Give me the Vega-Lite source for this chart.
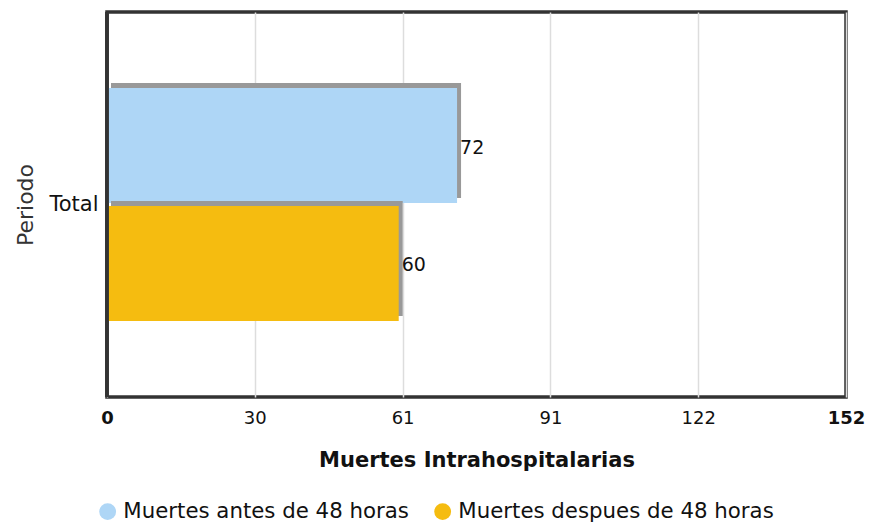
{
  "$schema": "https://vega.github.io/schema/vega-lite/v6.json",
  "width": 739,
  "height": 385,
  "autosize": {"type": "none"},
  "padding": {"left": 107, "top": 12, "right": 24, "bottom": 127},
  "data": {
    "values": [
      {"Periodo": "Total", "serie": "Muertes antes de 48 horas", "valor": 72},
      {"Periodo": "Total", "serie": "Muertes despues de 48 horas", "valor": 60}
    ]
  },
  "config": {
    "font": "DejaVu Sans",
    "view": {"stroke": "#333333", "strokeWidth": 3.5}
  },
  "encoding": {
    "x": {
      "field": "valor",
      "type": "quantitative",
      "title": "Muertes Intrahospitalarias",
      "scale": {"domain": [0, 152], "nice": false, "zero": true},
      "axis": {
        "values": [0, 30.4, 60.8, 91.2, 121.6, 152],
        "format": ".0f",
        "domain": false,
        "ticks": false,
        "grid": true,
        "gridColor": "#dddddd",
        "gridWidth": 1.5,
        "labelFontSize": 18,
        "labelColor": "#111111",
        "labelPadding": 12,
        "labelFontWeight": {
          "condition": {"test": "datum.value == 0 || datum.value == 152", "value": "bold"},
          "value": "normal"
        },
        "labelFlush": false,
        "titleFontSize": 21,
        "titleFontWeight": "bold",
        "titleColor": "#111111",
        "titlePadding": 22
      }
    }
  },
  "layer": [
    {
      "mark": {"type": "point", "opacity": 0},
      "encoding": {
        "y": {
          "field": "Periodo",
          "type": "nominal",
          "title": "Periodo",
          "axis": {
            "domain": false,
            "ticks": false,
            "labelFontSize": 21,
            "labelColor": "#111111",
            "labelPadding": 9,
            "titleFontSize": 22,
            "titleFontWeight": "normal",
            "titleColor": "#333333",
            "titlePadding": 11
          }
        }
      }
    },
    {
      "transform": [{"filter": "datum.serie == 'Muertes antes de 48 horas'"}],
      "mark": {"type": "bar", "color": "#999999", "xOffset": 4, "yOffset": -5},
      "encoding": {
        "y": {
          "field": "serie",
          "type": "nominal",
          "axis": null,
          "scale": {
            "type": "band",
            "domain": ["Muertes antes de 48 horas", "Muertes despues de 48 horas"],
            "paddingInner": 0.025,
            "paddingOuter": 0.645
          }
        }
      }
    },
    {
      "transform": [{"filter": "datum.serie == 'Muertes antes de 48 horas'"}],
      "mark": {"type": "bar"},
      "encoding": {
        "y": {
          "field": "serie",
          "type": "nominal",
          "axis": null,
          "scale": {
            "type": "band",
            "domain": ["Muertes antes de 48 horas", "Muertes despues de 48 horas"],
            "paddingInner": 0.025,
            "paddingOuter": 0.645
          }
        },
        "color": {
          "field": "serie",
          "type": "nominal",
          "scale": {
            "domain": ["Muertes antes de 48 horas", "Muertes despues de 48 horas"],
            "range": ["#AED6F6", "#F5BC10"]
          },
          "legend": {
            "title": null,
            "orient": "none",
            "direction": "horizontal",
            "legendX": -10,
            "legendY": 489,
            "symbolType": "circle",
            "symbolSize": 283,
            "symbolStrokeWidth": 0,
            "labelFontSize": 21.3,
            "labelColor": "#111111",
            "labelOffset": 5,
            "labelLimit": 0,
            "columnPadding": 23
          }
        }
      }
    },
    {
      "transform": [{"filter": "datum.serie == 'Muertes despues de 48 horas'"}],
      "mark": {"type": "bar", "color": "#999999", "xOffset": 4, "yOffset": -5},
      "encoding": {
        "y": {
          "field": "serie",
          "type": "nominal",
          "axis": null,
          "scale": {
            "type": "band",
            "domain": ["Muertes antes de 48 horas", "Muertes despues de 48 horas"],
            "paddingInner": 0.025,
            "paddingOuter": 0.645
          }
        }
      }
    },
    {
      "transform": [{"filter": "datum.serie == 'Muertes despues de 48 horas'"}],
      "mark": {"type": "bar"},
      "encoding": {
        "y": {
          "field": "serie",
          "type": "nominal",
          "axis": null,
          "scale": {
            "type": "band",
            "domain": ["Muertes antes de 48 horas", "Muertes despues de 48 horas"],
            "paddingInner": 0.025,
            "paddingOuter": 0.645
          }
        },
        "color": {"field": "serie", "type": "nominal"}
      }
    },
    {
      "mark": {"type": "text", "align": "left", "baseline": "middle", "dx": 3, "dy": 2, "fontSize": 19, "color": "#111111"},
      "encoding": {
        "y": {
          "field": "serie",
          "type": "nominal",
          "axis": null,
          "scale": {
            "type": "band",
            "domain": ["Muertes antes de 48 horas", "Muertes despues de 48 horas"],
            "paddingInner": 0.025,
            "paddingOuter": 0.645
          }
        },
        "text": {"field": "valor", "type": "quantitative"}
      }
    },
    {
      "mark": {"type": "rule", "color": "#333333", "strokeWidth": 3.5},
      "encoding": {"x": {"datum": 0}}
    }
  ],
  "resolve": {"scale": {"y": "independent"}}
}
